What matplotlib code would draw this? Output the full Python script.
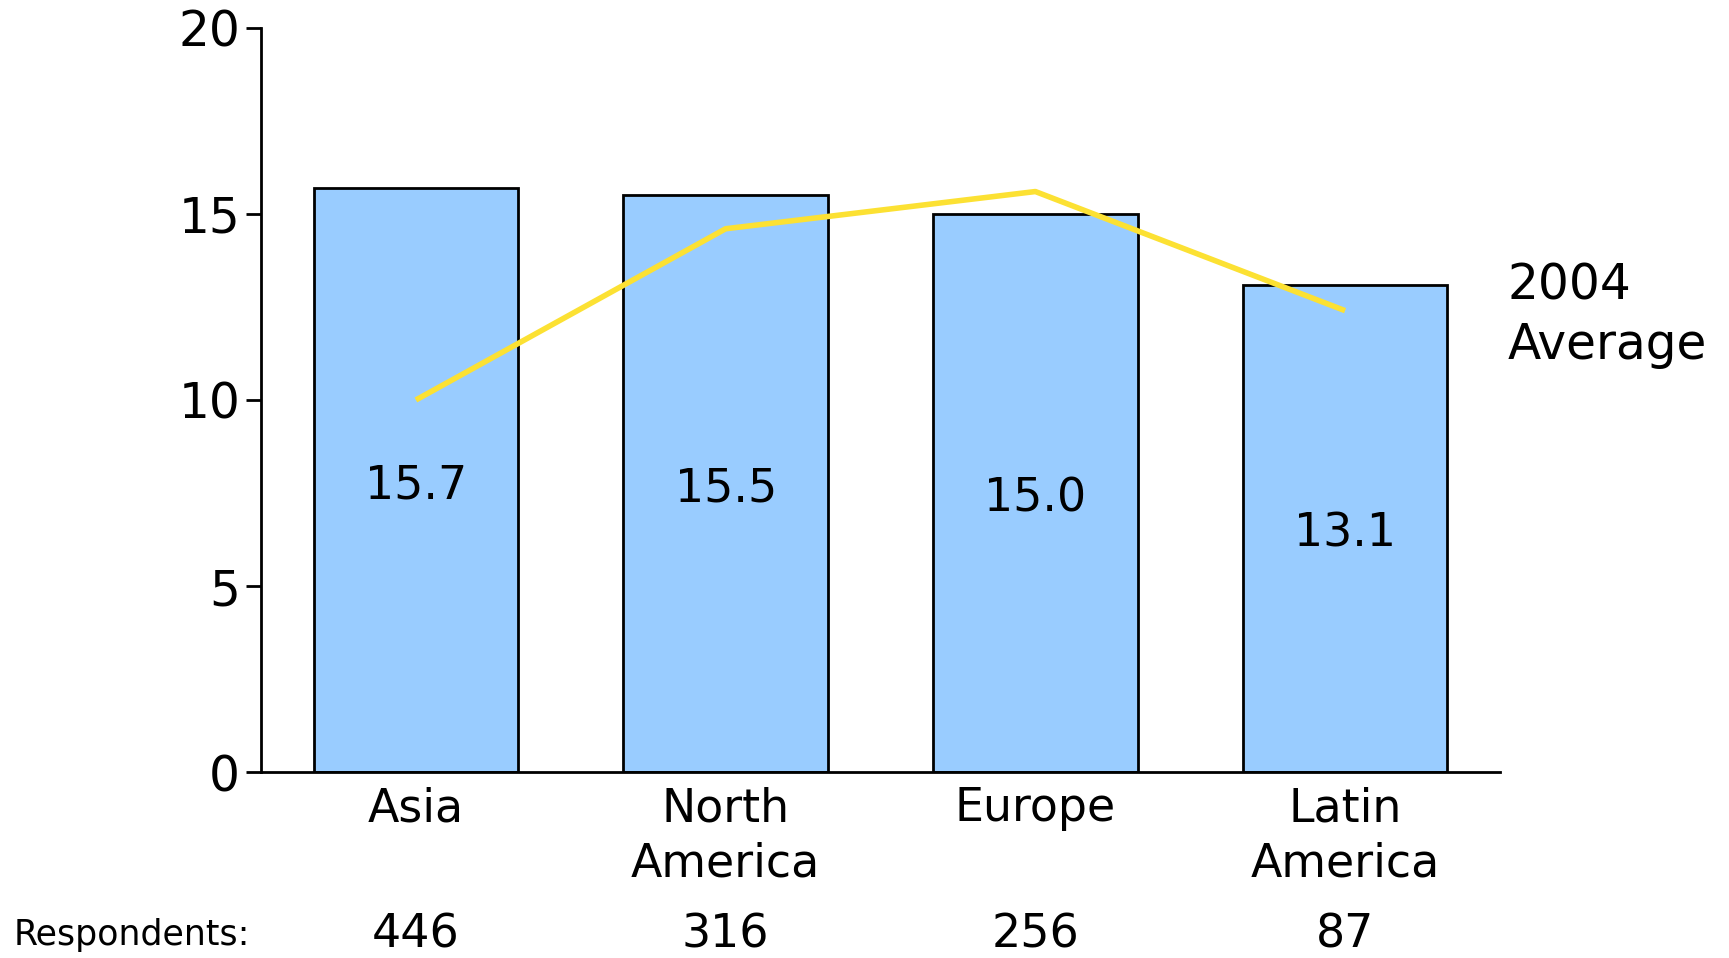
import matplotlib.pyplot as plt
import matplotlib.transforms as mtransforms

regions = ['Asia', 'North\nAmerica', 'Europe', 'Latin\nAmerica']
values = [15.7, 15.5, 15.0, 13.1]
avg_2004 = [10.0, 14.6, 15.6, 12.4]
respondents = [446, 316, 256, 87]

bar_color = '#99CCFF'
line_color = '#FCE133'

fig = plt.figure(figsize=(17.29, 9.58), dpi=100)
ax = fig.add_axes([0.151, 0.194, 0.7165, 0.777])

x = range(len(regions))
ax.bar(x, values, width=0.66, color=bar_color, edgecolor='black', linewidth=2, zorder=2)
ax.plot(x, avg_2004, color=line_color, linewidth=4, solid_capstyle='butt', zorder=3)

# value labels in the middle of each bar
for i, v in enumerate(values):
    ax.text(i, v / 2 - 0.15, f'{v:.1f}', ha='center', va='center', fontsize=33, zorder=4)

ax.set_xlim(-0.5, 3.5)
ax.set_ylim(0, 20)
ax.set_yticks([0, 5, 10, 15, 20])
ax.set_xticks(list(x))
ax.set_xticklabels(regions, fontsize=33, linespacing=1.3)
ax.tick_params(axis='x', length=0, pad=10)
ax.tick_params(axis='y', length=11, width=2, labelsize=35, pad=4, direction='out')

for side in ['top', 'right']:
    ax.spines[side].set_visible(False)
for side in ['left', 'bottom']:
    ax.spines[side].set_linewidth(2)

# respondents row below the chart
trans = mtransforms.blended_transform_factory(ax.transData, fig.transFigure)
fig.text(0.008, 0.024, 'Respondents:', fontsize=25, ha='left', va='center')
for i, n in enumerate(respondents):
    ax.text(i, 0.024, str(n), transform=trans, ha='center', va='center', fontsize=33)

# line label
fig.text(0.872, 0.671, '2004\nAverage', fontsize=35, ha='left', va='center', linespacing=1.3)

fig.savefig('out.png', dpi=100)
